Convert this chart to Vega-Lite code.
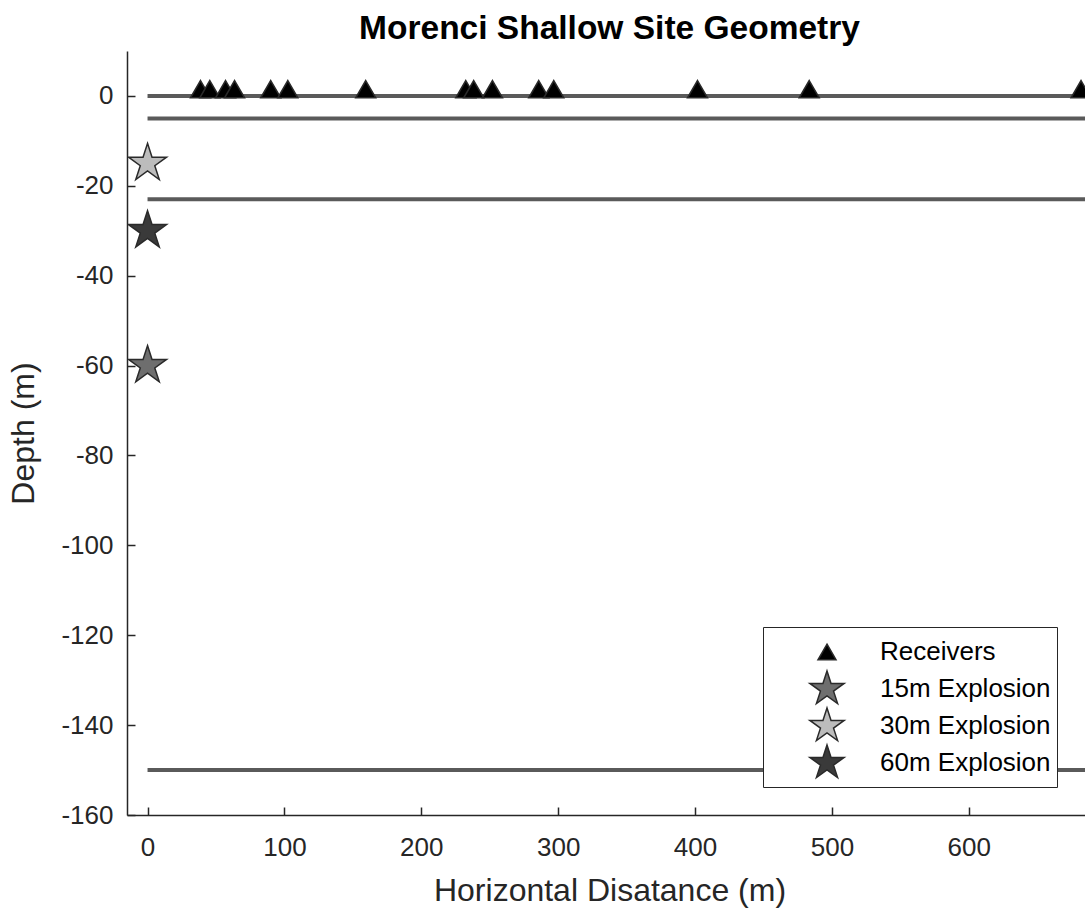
{
  "$schema": "https://vega.github.io/schema/vega-lite/v6.json",
  "width": 965,
  "height": 764,
  "autosize": {"type": "none"},
  "padding": {"left": 127, "top": 51, "right": 0, "bottom": 103},
  "background": "white",
  "title": {
    "text": "Morenci Shallow Site Geometry",
    "font": "Liberation Sans",
    "fontSize": 33.5,
    "fontWeight": "bold",
    "color": "#000000",
    "anchor": "middle",
    "offset": 5
  },
  "config": {
    "view": {"stroke": null},
    "axis": {
      "labelFont": "Liberation Sans",
      "labelFontSize": 26,
      "labelColor": "#262626",
      "labelExpr": "'' + datum.value",
      "titleFont": "Liberation Sans",
      "titleFontSize": 32,
      "titleFontWeight": "normal",
      "titleColor": "#262626",
      "domainColor": "#262626",
      "domainWidth": 1.5,
      "tickColor": "#262626",
      "tickWidth": 1.5,
      "tickSize": -8,
      "grid": false
    }
  },
  "layer": [
    {
      "data": {
        "values": [
          {"boundary": "surface", "depth": 0, "x_start": 0, "x_end": 720},
          {"boundary": "layer 1", "depth": -5, "x_start": 0, "x_end": 720},
          {"boundary": "layer 2", "depth": -23, "x_start": 0, "x_end": 720},
          {"boundary": "layer 3", "depth": -150, "x_start": 0, "x_end": 720}
        ]
      },
      "mark": {"type": "rule", "stroke": "#5a5a5a", "strokeWidth": 4, "clip": true},
      "encoding": {
        "x": {
          "field": "x_start",
          "type": "quantitative",
          "scale": {"domain": [-15, 690], "nice": false, "zero": false},
          "axis": {
            "title": "Horizontal Disatance (m)",
            "values": [0, 100, 200, 300, 400, 500, 600],
            "labelPadding": 27,
            "titlePadding": 15
          }
        },
        "x2": {"field": "x_end"},
        "y": {
          "field": "depth",
          "type": "quantitative",
          "scale": {"domain": [-160, 10], "nice": false, "zero": false},
          "axis": {
            "title": "Depth (m)",
            "values": [-160, -140, -120, -100, -80, -60, -40, -20, 0],
            "labelPadding": 22,
            "titlePadding": 20
          }
        }
      }
    },
    {
      "data": {
        "values": [
          {"series": "Receivers", "x": 38.7, "y": 1.5},
          {"series": "Receivers", "x": 45.5, "y": 1.5},
          {"series": "Receivers", "x": 57.0, "y": 1.5},
          {"series": "Receivers", "x": 63.6, "y": 1.5},
          {"series": "Receivers", "x": 90.0, "y": 1.5},
          {"series": "Receivers", "x": 102.5, "y": 1.5},
          {"series": "Receivers", "x": 159.4, "y": 1.5},
          {"series": "Receivers", "x": 232.5, "y": 1.5},
          {"series": "Receivers", "x": 238.3, "y": 1.5},
          {"series": "Receivers", "x": 252.0, "y": 1.5},
          {"series": "Receivers", "x": 285.8, "y": 1.5},
          {"series": "Receivers", "x": 296.8, "y": 1.5},
          {"series": "Receivers", "x": 401.8, "y": 1.5},
          {"series": "Receivers", "x": 483.4, "y": 1.5},
          {"series": "Receivers", "x": 682.0, "y": 1.5},
          {"series": "30m Explosion", "x": 0, "y": -15},
          {"series": "60m Explosion", "x": 0, "y": -30},
          {"series": "15m Explosion", "x": 0, "y": -60}
        ]
      },
      "mark": {"type": "point", "filled": true, "opacity": 1, "stroke": "#2a2a2a", "strokeWidth": 1.5, "clip": true, "size": 1600},
      "encoding": {
        "x": {"field": "x", "type": "quantitative"},
        "y": {"field": "y", "type": "quantitative"},
        "shape": {
          "field": "series",
          "type": "nominal",
          "scale": {
            "domain": ["Receivers", "15m Explosion", "30m Explosion", "60m Explosion"],
            "range": [
              "M-1,-0.8M1,0.8M0,-0.433L0.5,0.433L-0.5,0.433Z",
              "M0,-1L0.2245,-0.309L0.951,-0.309L0.363,0.118L0.588,0.809L0,0.382L-0.588,0.809L-0.363,0.118L-0.951,-0.309L-0.2245,-0.309Z",
              "M0,-1L0.2245,-0.309L0.951,-0.309L0.363,0.118L0.588,0.809L0,0.382L-0.588,0.809L-0.363,0.118L-0.951,-0.309L-0.2245,-0.309Z",
              "M0,-1L0.2245,-0.309L0.951,-0.309L0.363,0.118L0.588,0.809L0,0.382L-0.588,0.809L-0.363,0.118L-0.951,-0.309L-0.2245,-0.309Z"
            ]
          },
          "legend": {
            "title": null,
            "orient": "none",
            "legendX": 636,
            "legendY": 576,
            "padding": 6,
            "strokeColor": "#262626",
            "fillColor": "white",
            "labelFont": "Liberation Sans",
            "labelFontSize": 26,
            "labelColor": "#000000",
            "symbolSize": 1296,
            "symbolOffset": 39,
            "labelOffset": 34,
            "rowPadding": -2,
            "labelLimit": 400,
            "encode": {
              "symbols": {"update": {"stroke": {"value": "#2a2a2a"}, "strokeWidth": {"value": 1.5}, "opacity": {"value": 1}, "size": {"value": 1600}}}
            }
          }
        },
        "color": {
          "field": "series",
          "type": "nominal",
          "scale": {
            "domain": ["Receivers", "15m Explosion", "30m Explosion", "60m Explosion"],
            "range": ["#000000", "#6e6e6e", "#bcbcbc", "#3a3a3a"]
          }
        }
      }
    }
  ]
}
